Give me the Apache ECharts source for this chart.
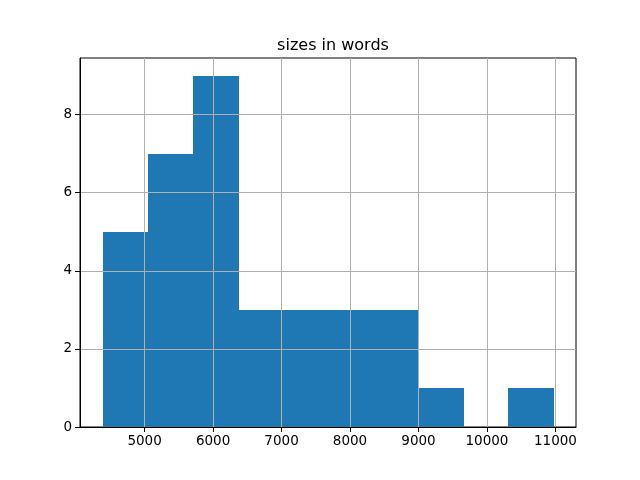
<!DOCTYPE html>
<html><head><meta charset="utf-8">
<script src="https://cdn.jsdelivr.net/npm/echarts@6/dist/echarts.min.js"></script>
<style>html,body{margin:0;padding:0;background:#fff}#c{width:640px;height:480px}</style>
</head><body><div id="c"></div>
<script>
const binEdges = [4386, 5045, 5703, 6362, 7020, 7679, 8337, 8996, 9654, 10313, 10971];
const counts = [5, 7, 9, 3, 3, 3, 3, 1, 0, 1];
const xTicks = [5000, 6000, 7000, 8000, 9000, 10000, 11000];
const yTicks = [0, 2, 4, 6, 8];
const titleText = 'sizes in words';

const data = counts.map((c, i) => [binEdges[i], binEdges[i + 1], c]);
const chart = echarts.init(document.getElementById('c'));
const font = 'DejaVu Sans';
chart.setOption({
  animation: false,
  title: { text: titleText, left: 328, top: 33, textAlign: 'center',
    textStyle: { fontFamily: font, fontSize: 16, fontWeight: 'normal', color: '#000' } },
  grid: { left: 80, right: 64, top: 58, bottom: 53, show: true, borderColor: '#000', borderWidth: 1, backgroundColor: 'transparent' },
  xAxis: {
    type: 'value', min: 4057, max: 11300, z: 10,
    axisLine: { show: true, onZero: false, lineStyle: { color: '#000', width: 1 } },
    axisTick: { show: true, length: 5, lineStyle: { color: '#000' }, customValues: xTicks },
    axisLabel: { show: true, fontFamily: font, fontSize: 13.5, color: '#000', margin: 7, customValues: xTicks,
      formatter: v => String(v) },
    splitLine: { show: true, lineStyle: { color: '#b0b0b0', width: 1 } }
  },
  yAxis: {
    type: 'value', min: 0, max: 9.45, z: 10,
    axisLine: { show: true, lineStyle: { color: '#000', width: 1 } },
    axisTick: { show: true, length: 5, lineStyle: { color: '#000' }, customValues: yTicks },
    axisLabel: { show: true, fontFamily: font, fontSize: 13.5, color: '#000', margin: 8, customValues: yTicks,
      formatter: v => String(v) },
    splitLine: { show: true, lineStyle: { color: '#b0b0b0', width: 1 } }
  },
  series: [{
    type: 'custom', z: 2,
    data: data,
    encode: { x: [0, 1], y: 2 },
    renderItem: function (params, api) {
      const p0 = api.coord([api.value(0), 0]);
      const p1 = api.coord([api.value(1), api.value(2)]);
      const x0 = Math.round(p0[0]), x1 = Math.round(p1[0]);
      const y0 = Math.round(p0[1]), y1 = Math.round(p1[1]);
      return { type: 'rect', shape: { x: x0, y: y1, width: x1 - x0 + 1, height: y0 - y1 },
        style: { fill: '#1f77b4', stroke: null } };
    }
  }]
});
</script></body></html>
